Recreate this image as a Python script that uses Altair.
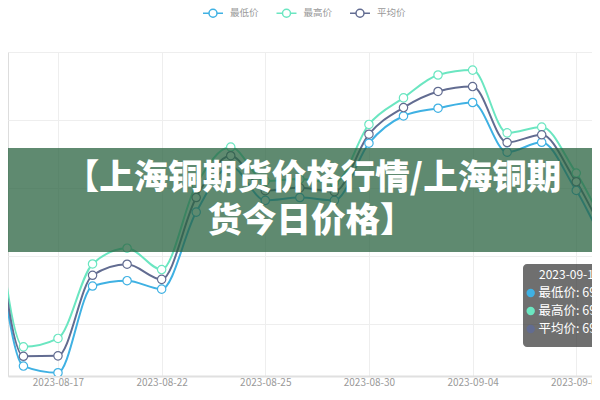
import json
import altair as alt
import pandas as pd

# ---- data ----
dates = ["2023-08-15", "2023-08-16", "2023-08-17", "2023-08-18", "2023-08-21",
         "2023-08-22", "2023-08-23", "2023-08-24", "2023-08-25", "2023-08-28",
         "2023-08-29", "2023-08-30", "2023-08-31", "2023-09-01", "2023-09-04",
         "2023-09-05", "2023-09-06", "2023-09-07", "2023-09-08", "2023-09-11"]
day_index = [-2, -1, 0, 1, 2, 3, 4, 5, 6, 7, 8, 9, 10, 11, 12, 13, 14, 15, 16, 17]
low_prices = [69202, 67693, 67644, 68281, 68320, 68258, 68824, 69159, 68910, 68931,
              68910, 69330, 69530, 69587, 69629, 69264, 69337, 68983, 68603, 69017]
high_prices = [69373, 67834, 67896, 68443, 68559, 68402, 69024, 69302, 69052, 69067,
               69038, 69468, 69663, 69831, 69867, 69406, 69449, 69111, 68746, 69102]
avg_prices = [69287, 67765, 67768, 68360, 68441, 68330, 68931, 69238, 68981, 69002,
              68974, 69396, 69592, 69710, 69746, 69335, 69392, 69047, 68675, 69052]
series_names = ["最低价", "最高价", "平均价"]
series_colors = ["#3fb1e3", "#6be6c1", "#626c91"]
tick_days = [0, 3, 6, 9, 12, 15]
grid_prices = [68000, 68500, 69000, 69500, 70000]
title_lines = ["【上海铜期货价格行情/上海铜期", "货今日价格】"]

FONT = "Noto Sans CJK SC"

rows = []
for name, vals in zip(series_names, [low_prices, high_prices, avg_prices]):
    for d, i, v in zip(dates, day_index, vals):
        rows.append({"date": d, "idx": i, "price": v, "series": name})
df = pd.DataFrame(rows)

label_expr = json.dumps(dates) + "[datum.value + 2]"

x = alt.X("idx:Q",
          scale=alt.Scale(domain=[-1.447, 15.456], nice=False, zero=False),
          axis=alt.Axis(values=tick_days, labelExpr=label_expr, title=None,
                        grid=True, gridColor="#eeeeee", ticks=False, tickSize=0,
                        domainColor="#e0e0e0", domainWidth=2,
                        labelColor="#999999", labelFontSize=10, labelFont=FONT,
                        labelBaseline="middle", labelPadding=6.5,
                        labelFlush=False, labelOverlap=False))
y = alt.Y("price:Q",
          scale=alt.Scale(domain=[67620, 70000], nice=False, zero=False),
          axis=alt.Axis(values=grid_prices, labels=False, ticks=False,
                        domain=False, title=None, grid=True, gridColor="#eeeeee"))

# legend icon: short line with a hollow circle (units of 4.5 px)
legend_symbol = ("M-2.22,0H-0.89M0.89,0H2.22M-0.89,0A0.89,0.89,0,1,1,0.89,0"
                 "A0.89,0.89,0,1,1,-0.89,0Z")
stroke = alt.Stroke("series:N",
                    scale=alt.Scale(domain=series_names, range=series_colors),
                    legend=alt.Legend(orient="none", legendX=199.5, legendY=-44.5,
                                      direction="horizontal", title=None,
                                      symbolType=legend_symbol, symbolSize=81,
                                      symbolStrokeWidth=1.5, symbolFillColor="white",
                                      labelFontSize=9.5, labelColor="#999999",
                                      labelFont=FONT, labelOffset=11.5,
                                      columnPadding=13.5, padding=0))

base = alt.Chart(df)
lines = base.mark_line(interpolate="monotone", strokeWidth=2, clip=True).encode(
    x=x, y=y, stroke=stroke, detail="series:N")
points = base.mark_point(filled=True, fill="white", size=70, strokeWidth=1.2,
                         opacity=1, clip=True).encode(x=x, y=y, stroke=stroke)

one = alt.Chart(pd.DataFrame({"a": [0]}))
banner = one.mark_rect(fill="rgba(42,99,64,0.75)").encode(
    x=alt.value(-8), x2=alt.value(600), y=alt.value(96), y2=alt.value(200))
t1 = one.mark_text(text=title_lines[0], font=FONT, fontSize=34.5, fontWeight=900,
                   color="white", align="center", baseline="middle").encode(
    x=alt.value(305), y=alt.value(127))
t2 = one.mark_text(text=title_lines[1], font=FONT, fontSize=34.5, fontWeight=900,
                   color="white", align="center", baseline="middle").encode(
    x=alt.value(303), y=alt.value(169.5))

# tooltip-like box for the last day
tip_box = one.mark_rect(fill="rgba(50,50,50,0.7)", cornerRadius=4).encode(
    x=alt.value(515), x2=alt.value(640), y=alt.value(212), y2=alt.value(295))
tip_title = one.mark_text(text=dates[-1], font=FONT, fontSize=12, color="white",
                          align="left", baseline="middle").encode(
    x=alt.value(531), y=alt.value(223))
tip_layers = [tip_box, tip_title]
last_vals = [low_prices[-1], high_prices[-1], avg_prices[-1]]
for k, (name, col, v) in enumerate(zip(series_names, series_colors, last_vals)):
    yy = 241 + 18 * k
    tip_layers.append(one.mark_circle(size=70, color=col, opacity=1).encode(
        x=alt.value(522.7), y=alt.value(yy)))
    tip_layers.append(one.mark_text(text=f"{name}: {v:,}", font=FONT, fontSize=12.5,
                                    color="white", align="left",
                                    baseline="middle").encode(
        x=alt.value(530.5), y=alt.value(yy)))

chart = alt.layer(lines, points, banner, t1, t2, *tip_layers).properties(
    width=584, height=324,
    autosize=alt.AutoSizeParams(type="none"),
    padding={"left": 0, "top": 44, "right": 0, "bottom": 12},
).configure_view(strokeWidth=0).configure(font=FONT)

chart.save("out.html", embed_options={"renderer": "svg", "actions": False})
